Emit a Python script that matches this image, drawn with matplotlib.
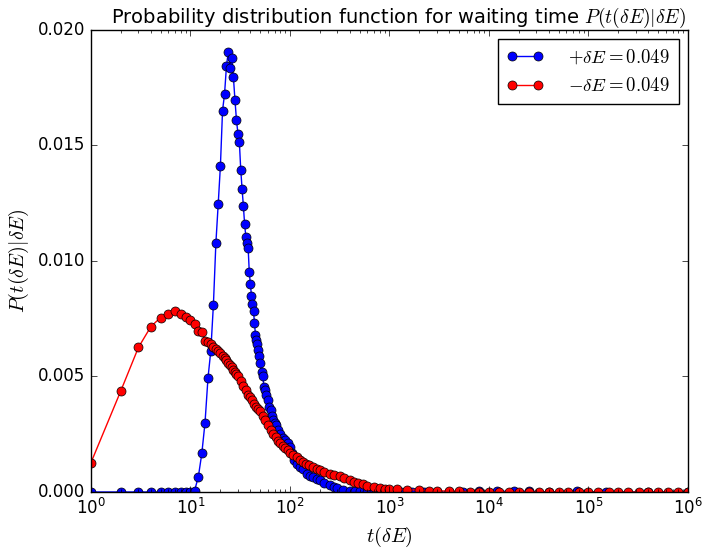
import matplotlib
matplotlib.use("Agg")
import matplotlib.pyplot as plt
from matplotlib.ticker import FixedLocator, FormatStrFormatter

plt.style.use('classic')

# waiting time bins (t) and probabilities
blue_t = [1, 2, 3, 4, 5, 6, 7, 8, 9, 10,
          11, 12, 13, 14, 15, 16, 17, 18, 19, 20,
          21, 22, 23, 24, 25, 26, 27, 28, 29, 30,
          31, 32, 33, 34, 35, 36, 37, 38, 39, 40,
          41, 42, 43, 44, 45, 46, 47, 48, 49, 50,
          52, 53, 55, 56, 58, 60, 62, 64, 66, 68,
          70, 72, 76, 80, 85, 89, 95, 100, 105, 110,
          118, 126, 135, 150, 160, 170, 185, 200, 220, 250,
          275, 300, 343, 400, 450, 500, 600, 700, 850, 1000,
          1300, 1700, 2200, 3000, 4000, 5500, 8000, 12000, 18000, 25000,
          40000, 76000, 150000, 400000, 1000000]
blue_p = [0, 0, 0, 0, 0, 0, 0, 0, 0, 0,
          0.00006, 0.00066, 0.00167, 0.0030, 0.00494, 0.0061, 0.0081, 0.01077, 0.01247, 0.01413,
          0.01651, 0.01723, 0.01844, 0.01906, 0.01837, 0.0188, 0.01797, 0.01696, 0.01609, 0.01551,
          0.01515, 0.01395, 0.01313, 0.01239, 0.0116, 0.01105, 0.0108, 0.01055, 0.00951, 0.0090,
          0.0085, 0.00814, 0.00784, 0.0073, 0.0068, 0.0066, 0.0064, 0.00615, 0.0059, 0.00557,
          0.0052, 0.0050, 0.00455, 0.0044, 0.0042, 0.00398, 0.0037, 0.00355, 0.0033, 0.00312,
          0.0030, 0.0029, 0.00268, 0.0025, 0.00235, 0.00225, 0.0021, 0.00196, 0.0017, 0.0014,
          0.0012, 0.0011, 0.00098, 0.0008, 0.0007, 0.00065, 0.00058, 0.00052, 0.0004, 0.0003,
          0.00023, 0.00018, 0.0001, 0.00006, 0.00004, 0.00003, 0.00002, 0.00001, 0.00001, 0,
          0, 0, 0, 0, 0, 0, 0.00003, 0.00003, 0.00003, 0.00003,
          0, 0.00003, 0, 0, 0]

red_t = [1, 2, 3, 4, 5, 6, 7, 8, 9, 10,
         11, 12, 13, 14, 15, 16, 17, 18, 19, 20,
         21, 22, 23, 24, 25, 26, 27, 28, 29, 30,
         32, 34, 36, 38, 40, 42, 44, 46, 48, 50,
         53, 56, 60, 64, 68, 72, 76, 80, 85, 90,
         95, 100, 108, 117, 126, 135, 145, 155, 170, 185,
         200, 220, 250, 280, 316, 350, 400, 440, 486, 540,
         600, 700, 800, 900, 1000, 1200, 1500, 2000, 2500, 3000,
         4000, 5000, 6500, 8000, 10000, 12500, 16000, 20000, 25000, 32000,
         40000, 50000, 63000, 80000, 100000, 125000, 160000, 200000, 250000, 320000,
         400000, 500000, 630000, 800000, 1000000]
red_p = [0.00127, 0.00439, 0.00626, 0.00716, 0.00755, 0.00769, 0.00784, 0.0077, 0.00759, 0.00743,
         0.00727, 0.00698, 0.00691, 0.00655, 0.00651, 0.0064, 0.00629, 0.0062, 0.0061, 0.0060,
         0.0059, 0.0058, 0.0057, 0.0056, 0.0055, 0.0054, 0.0053, 0.0052, 0.0051, 0.0050,
         0.0048, 0.0046, 0.0044, 0.0042, 0.0041, 0.0040, 0.0038, 0.0037, 0.0036, 0.0035,
         0.0033, 0.0031, 0.0029, 0.0027, 0.0025, 0.0024, 0.0022, 0.0021, 0.0020, 0.0019,
         0.0018, 0.0017, 0.0016, 0.0015, 0.0014, 0.0013, 0.0012, 0.00115, 0.0011, 0.0010,
         0.00095, 0.00088, 0.0008, 0.00074, 0.00068, 0.0006, 0.0005, 0.00044, 0.00038, 0.00033,
         0.00028, 0.00022, 0.00017, 0.00015, 0.00013, 0.00011, 0.0001, 0.00008, 0.00006, 0.00005,
         0.00004, 0.00003, 0.00002, 0.00001, 0, 0, 0, 0, 0, 0,
         0, 0, 0, 0, 0, 0, 0, 0, 0, 0,
         0, 0, 0, 0, 0]

labels = [r'$+\delta E=0.049$', r'$-\delta E=0.049$']

fig = plt.figure(figsize=(7.02, 5.51), dpi=100, facecolor='white')
ax = fig.add_axes([0.1296, 0.1071, 0.8504, 0.8385])

ax.plot(blue_t, blue_p, 'o-', color='b', mec='k', mew=0.5, ms=6.5, lw=1, label=labels[0])
ax.plot(red_t, red_p, 'o-', color='r', mec='k', mew=0.5, ms=6.5, lw=1, label=labels[1])

ax.set_xscale('log')
ax.set_xlim(1, 1e6)
ax.set_ylim(0, 0.020)
ax.yaxis.set_major_locator(FixedLocator([0, 0.005, 0.010, 0.015, 0.020]))
ax.yaxis.set_major_formatter(FormatStrFormatter('%.3f'))
ax.tick_params(labelsize=12)

ax.set_title(r'Probability distribution function for waiting time $P(t(\delta E)|\delta E)$',
             fontsize=14, x=0.515)
ax.set_xlabel(r'$t(\delta E)$', fontsize=14.5)
ax.set_ylabel(r'$P(t(\delta E)|\delta E)$', fontsize=14.5)

ax.legend(loc='upper right', numpoints=2, fontsize=13.5, handletextpad=1.3,
          borderpad=0.45, labelspacing=0.5, borderaxespad=0.5)

plt.savefig('out.png', dpi=100, facecolor='white')
